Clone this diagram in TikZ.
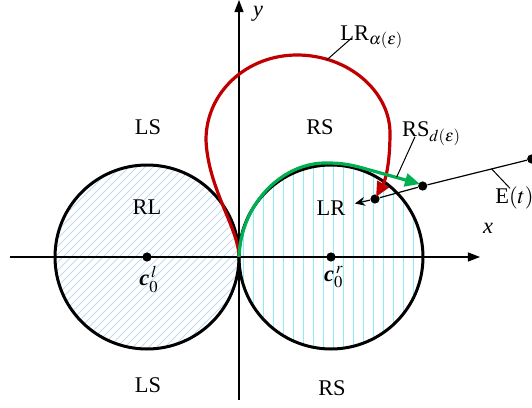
\documentclass[tikz,border=0pt]{standalone}
\usepackage{mathptmx}
\usepackage[no-math]{fontspec}
\setmainfont{Liberation Serif}
\usetikzlibrary{arrows.meta}
\definecolor{cred}{RGB}{192,0,0}
\definecolor{cgreen}{RGB}{0,176,80}
\definecolor{hatchblue}{RGB}{196,218,240}
\definecolor{hatchcyan}{RGB}{145,236,250}
\begin{document}
\begin{tikzpicture}[x=0.5pt,y=0.5pt,
  lbl/.style={font=\fontsize{11.2}{13}\selectfont, inner sep=0pt},
  axisline/.style={line width=0.6pt, -{Triangle[length=6pt,width=4.5pt]}},
  bound/.style={line width=1.5pt, draw=black},
  lead/.style={line width=0.5pt},
  dotn/.style={circle, fill=black, inner sep=0pt, minimum size=4.6pt},
  hatchl/.style={line width=0.45pt, draw=hatchblue},
  hatchr/.style={line width=0.45pt, draw=hatchcyan},
  redpath/.style={line width=1.6pt, draw=cred, -{Triangle[length=7.5pt,width=6.5pt]}},
  greenpath/.style={line width=1.6pt, draw=cgreen, -{Triangle[length=7.5pt,width=6.5pt]}},
  etline/.style={line width=0.6pt, -{Stealth[length=5pt,width=4.5pt]}},
]
\useasboundingbox (-239,-151) rectangle (293,257);
\coordinate (O) at (0,0);
\coordinate (cl) at (-92,0);
\coordinate (cr) at (92,0);
% hatching
\begin{scope}
  \clip (cl) circle (92);
  \foreach \i in {-380,-372,...,0} \draw[hatchl] (\i,-100) -- ++(200,200);
\end{scope}
\begin{scope}
  \clip (cr) circle (92);
  \foreach \i in {4,14,...,190} \draw[hatchr] (\i,-95) -- (\i,95);
\end{scope}
% axes
\coordinate (xs) at (-229,0); \coordinate (xe) at (241,0);
\coordinate (ys) at (0,-143); \coordinate (ye) at (0,257);
\draw[axisline] (xs) -- (xe);
\draw[axisline] (ys) -- (ye);
% circles
\draw[bound] (cl) circle (92);
\draw[bound] (cr) circle (92);
% dots
\node[dotn] (dl) at (cl) {};
\node[dotn] (dr) at (cr) {};
\node[dotn] (p1) at (136,58) {};
\node[dotn] (p2) at (183.7,71) {};
\node[dotn] (p3) at (292.7,98) {};
\coordinate (etip) at (116,53.5);
% red curve
\draw[redpath] (O) .. controls (0,28) and (-31,68) .. (-33,117)
  .. controls (-33,165) and (8,202) .. (58,202)
  .. controls (110,202) and (151,165) .. (151,124)
  .. controls (151,95) and (147,78) .. (137,60);
% green curve
\draw[greenpath] (O) .. controls (2,55) and (45,95) .. (88,94)
  .. controls (100,94) and (108,93) .. (120,90) -- (181,73);
% E(t) line
\draw[etline] (p3) -- (p2) -- (p1) -- (etip);
% leaders
\coordinate (la1) at (87.7,197); \coordinate (la2) at (112.7,219);
\coordinate (lb1) at (157.7,80); \coordinate (lb2) at (176,120.3);
\coordinate (lc1) at (252.7,88); \coordinate (lc2) at (271,68.7);
\draw[lead] (la1) -- (la2);
\draw[lead] (lb1) -- (lb2);
\draw[lead] (lc1) -- (lc2);
% labels
\node[lbl] (ty) at (19,243) {\textit{y}};
\node[lbl] (tx) at (249,29) {\textit{x}};
\node[lbl] (tls1) at (-91,130) {LS};
\node[lbl] (trs1) at (81,130) {RS};
\node[lbl] (trl) at (-92,50) {RL};
\node[lbl] (tlr) at (92,49) {LR};
\node[lbl] (tls2) at (-91,-128) {LS};
\node[lbl] (trs2) at (93,-131) {RS};
\node[lbl] (tcl) at (-90,-22) {$\textbf{\textit{c}}_0^{\,l}$};
\node[lbl] (tcr) at (95,-20) {$\textbf{\textit{c}}_0^{\,r}$};
\node[lbl, anchor=base west] (tla) at (101,217) {LR$_{\alpha(\varepsilon)}$};
\node[lbl, anchor=base west] (trsd) at (162.7,120) {RS$_{d(\varepsilon)}$};
\node[lbl, anchor=base west] (tet) at (256,54) {E$(t)$};
\end{tikzpicture}
\end{document}
